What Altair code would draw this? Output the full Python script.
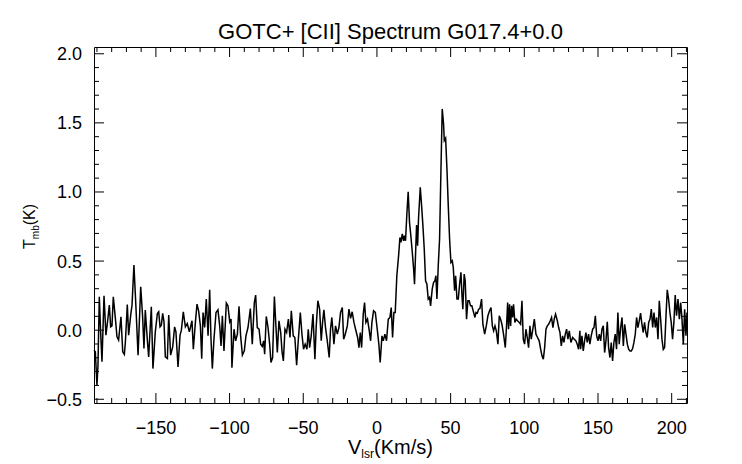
import altair as alt
import pandas as pd

TITLE = "GOTC+ [CII] Spectrum G017.4+0.0"

velocity = [
    -192.0, -191.1, -190.0, -189.3, -188.4, -187.5, -186.6, -185.2, -183.9, -182.7,
    -181.6, -180.7, -179.8, -178.9, -177.5, -176.4, -175.3, -173.7, -172.5, -171.4,
    -170.7, -169.4, -168.5, -167.1, -166.2, -164.9, -163.5, -162.1, -160.3, -159.0,
    -158.1, -157.2, -155.8, -154.9, -153.1, -152.0, -150.4, -149.0, -148.1, -147.2,
    -146.3, -145.4, -144.5, -143.6, -142.2, -141.3, -140.0, -138.6, -137.3, -136.4,
    -135.0, -133.6, -132.7, -131.4, -130.0, -128.7, -127.3,
    -125.5, -124.6, -123.2, -122.1, -121.0, -119.8, -118.9, -118.0, -116.9, -115.8,
    -114.6, -113.5, -112.6, -111.7, -110.6, -109.2, -107.9, -106.7, -105.8, -104.9,
    -103.8, -102.2, -101.1, -99.9, -99.0, -98.4, -97.0, -95.9, -94.7, -93.6,
    -92.5, -91.3, -90.0, -88.9, -87.5, -85.9, -84.6, -83.2, -82.3, -81.2,
    -80.0, -78.9, -77.8, -76.9, -76.2, -75.1, -73.9, -72.8, -71.9, -70.8,
    -69.6, -68.5, -67.6, -66.5, -65.3, -64.4, -63.5, -62.4, -61.3, -60.1,
    -59.0, -58.1,
    -56.8, -55.7, -54.5, -53.4, -52.0, -50.9, -49.8, -48.7, -47.5, -46.6,
    -45.7, -44.6, -43.4, -42.1, -41.2, -40.1, -38.9, -37.8, -36.9, -36.0,
    -34.9, -33.7, -32.4, -31.5, -30.6, -29.2, -28.1, -26.9, -25.8, -24.7,
    -23.5, -22.6, -21.5, -20.1, -19.0, -17.9, -16.8, -15.6, -14.5, -13.1,
    -12.2, -11.3, -10.4, -9.3, -8.4, -7.5, -6.4, -5.2, -4.3, -3.4,
    -2.3, -1.1, 0.2, 1.3, 2.2, 3.4, 4.3,
    5.4, 6.5, 7.7, 8.8, 9.7, 10.6, 11.5, 12.4, 13.5, 14.7,
    15.6, 16.3, 17.2, 18.1, 18.7, 19.4, 20.3, 21.2, 22.1, 23.0,
    23.9, 24.9, 25.5, 26.4, 26.9, 27.6, 28.2, 29.4, 30.3, 31.2,
    32.1, 33.0, 33.9, 34.8, 35.7, 36.4, 37.5, 38.4, 39.3, 40.0,
    40.7, 41.6, 42.5, 43.4, 44.3, 45.2, 45.7, 46.6, 47.5, 48.4,
    49.3, 50.2, 51.1, 51.8, 52.7, 53.4, 54.3, 55.2, 56.1, 57.0,
    57.7, 58.3, 59.2, 59.9, 60.8, 61.7, 62.6, 63.5, 64.4, 65.3,
    66.5,
    67.2, 68.1, 69.0, 69.9, 71.0, 71.9, 73.1, 74.2, 75.3, 76.4,
    77.4, 78.3, 79.2, 80.1, 81.0, 82.1, 83.0, 83.9, 84.8, 85.9,
    87.1, 88.0, 88.7, 89.3, 90.0, 90.7, 91.4, 92.1, 92.7, 93.6,
    94.5, 95.4, 96.6, 97.5, 98.4, 99.3, 100.2, 101.1, 102.0, 102.9,
    103.8, 104.7, 105.6, 106.8, 107.9, 109.0, 110.1, 111.1, 112.0, 112.9,
    113.8, 114.7, 115.6, 116.5, 117.6, 118.5, 119.4, 120.3, 121.2, 122.4,
    123.3, 124.2, 125.1, 126.0, 126.9, 127.8, 128.7, 129.6, 130.5, 131.6,
    132.8, 133.9, 135.0, 135.9, 136.8, 137.7,
    138.2, 139.1, 140.0, 140.9, 141.8, 142.7, 143.6, 144.5, 145.4, 146.4,
    147.3, 148.2, 149.1, 150.0, 150.9, 151.8, 152.7, 153.6, 154.5, 155.4,
    156.3, 157.2, 158.1, 159.0, 159.9, 160.8, 161.7, 162.6, 163.5, 164.4,
    165.4, 166.3, 167.2, 168.1, 169.0, 169.9, 170.8, 171.7, 172.6, 173.5,
    174.4, 175.3, 176.2, 177.1, 178.0, 178.9, 179.8, 180.7, 181.6, 182.5,
    183.4, 184.4, 185.3, 186.2, 187.1, 188.0, 188.9, 189.8, 190.7, 191.6,
    192.5, 193.4, 194.3, 195.2, 196.1, 197.0, 197.9, 198.8, 199.7, 200.6,
    201.5, 202.4, 203.3, 204.3, 205.2, 206.1, 207.0, 207.9, 208.8, 209.7,
    210.4,
]

tmb = [
    -0.145, -0.157, -0.399, -0.254, 0.242, -0.012, -0.229, 0.249, -0.036, 0.072,
    0.181, 0.024, 0.031, 0.242, 0.085, -0.048, -0.072, 0.097, -0.157, -0.176,
    -0.085, 0.186, -0.036, 0.109, 0.181, 0.471, 0.157, -0.181, 0.314, 0.097,
    -0.133, 0.145, -0.072, -0.193, 0.169, -0.278, -0.012, 0.121, 0.133, 0.024,
    0.036, 0.121, 0.060, -0.193, -0.205, 0.109, -0.181, -0.121, 0.024, -0.012,
    -0.266, -0.036, 0.000, 0.133, 0.024, 0.048, -0.012,
    0.068, -0.138, 0.056, 0.188, 0.140, 0.031, -0.206, 0.128, 0.019, 0.225,
    -0.041, 0.292, -0.065, -0.278, -0.065, 0.128, 0.147, 0.031, -0.114, 0.104,
    -0.150, 0.196, 0.176, 0.060, 0.080, -0.271, 0.007, -0.077, -0.029, 0.172,
    -0.041, -0.181, -0.150, -0.041, 0.019, 0.157, -0.101, 0.200, 0.254, 0.019,
    0.007, -0.101, -0.118, -0.077, -0.174, 0.099, 0.019, -0.101, -0.234, -0.198,
    0.244, 0.019, -0.162, 0.068, -0.017, -0.157, -0.222, 0.007, -0.017, 0.080,
    -0.053, 0.140,
    -0.041, -0.053, -0.254, -0.077, 0.128, -0.029, -0.138, -0.101, -0.138, 0.007,
    -0.126, -0.041, 0.116, -0.210, 0.031, 0.213, 0.152, -0.077, 0.056, 0.147,
    0.019, -0.077, -0.198, 0.007, 0.092, -0.101, 0.031, -0.029, 0.019, 0.128,
    0.164, -0.065, -0.029, 0.031, 0.152, 0.085, 0.133, 0.056, 0.007, -0.053,
    -0.126, -0.017, -0.126, 0.116, 0.200, 0.056, 0.080, -0.005, -0.077, 0.056,
    0.140, 0.128, 0.007, -0.101, -0.234, -0.041, -0.077,
    -0.029, -0.077, 0.080, 0.092, 0.164, -0.053, 0.128, 0.128, 0.394, 0.539,
    0.671, 0.635, 0.696, 0.647, 0.684, 0.647, 0.841, 1.002, 0.780, 0.684,
    0.575, 0.442, 0.333, 0.611, 0.761, 0.611, 0.804, 1.034, 0.901, 0.756,
    0.587, 0.357, 0.333, 0.225, 0.237, 0.176, 0.297, 0.345, 0.357, 0.394,
    0.225, 0.466, 0.659, 1.143, 1.601, 1.493, 1.372, 1.389, 1.167, 0.901,
    0.659, 0.490, 0.502, 0.454, 0.285, 0.394, 0.225, 0.225, 0.333, 0.418,
    0.249, 0.152, 0.406, 0.357, 0.080, 0.213, 0.213, 0.176, 0.176, 0.140,
    0.092,
    0.128, 0.123, 0.152, 0.157, 0.225, 0.043, -0.029, 0.031, 0.104, 0.140,
    0.164, 0.031, -0.005, 0.031, -0.005, -0.101, 0.104, 0.080, 0.043, -0.029,
    -0.126, 0.043, 0.200, 0.007, 0.188, 0.031, 0.176, 0.092, 0.188, 0.056,
    0.080, 0.068, 0.056, 0.043, 0.213, -0.065, -0.101, 0.007, -0.053, -0.126,
    0.031, -0.065, -0.005, 0.080, -0.029, -0.053, -0.077, -0.138, -0.186, -0.210,
    -0.126, 0.007, 0.031, 0.043, 0.068, 0.092, 0.019, 0.080, 0.116, 0.068,
    0.019, -0.017, -0.114, -0.041, -0.089, -0.029, 0.007, -0.065, -0.005, -0.089,
    -0.053, -0.065, -0.077, -0.101, -0.138, -0.005,
    -0.138, -0.041, -0.150, -0.077, -0.017, -0.089, -0.029, -0.101, -0.041, 0.007,
    0.019, 0.104, -0.041, -0.077, -0.029, -0.077, 0.007, 0.031, -0.162, -0.077,
    0.060, -0.126, -0.198, -0.089, -0.222, -0.089, -0.029, -0.138, 0.128, -0.101,
    0.019, 0.092, -0.114, 0.043, -0.029, -0.101, -0.138, -0.150, -0.150, -0.133,
    -0.089, -0.029, 0.092, 0.019, 0.068, 0.123, 0.043, -0.017, 0.056, -0.017,
    -0.053, 0.056, 0.080, 0.152, 0.019, 0.128, 0.019, 0.092, -0.065, 0.213,
    0.080, -0.065, -0.140, -0.126, 0.092, 0.292, 0.225, 0.128, 0.056, -0.065,
    0.056, 0.254, 0.104, 0.225, 0.080, 0.200, 0.080, -0.101, 0.152, -0.041,
    0.128,
]

x_major = [-150, -100, -50, 0, 50, 100, 150, 200]
x_tick_labels = ["\u2212150", "\u2212100", "\u221250", "0", "50", "100", "150", "200"]
x_minor = [-190, -180, -170, -160, -140, -130, -120, -110, -90, -80, -70, -60,
           -40, -30, -20, -10, 10, 20, 30, 40, 60, 70, 80, 90, 110, 120, 130,
           140, 160, 170, 180, 190, 210]
y_major = [-0.5, 0.0, 0.5, 1.0, 1.5, 2.0]
y_tick_labels = ["\u22120.5", "0.0", "0.5", "1.0", "1.5", "2.0"]
y_minor = [-0.4, -0.3, -0.2, -0.1, 0.1, 0.2, 0.3, 0.4, 0.6, 0.7, 0.8, 0.9,
           1.1, 1.2, 1.3, 1.4, 1.6, 1.7, 1.8, 1.9]
x_label_parts = ["V", "lsr", "(Km/s)"]
y_label_parts = ["T", "mb", "(K)"]
x_domain = [-192.0, 210.4]
y_domain = [-0.527, 2.049]

W, H = 593, 356
FONT = "Liberation Sans"
MAJ, MIN = 10, 5
TICK_FS = 18

spec = pd.DataFrame({"velocity": velocity, "tmb": tmb})
xs = alt.Scale(domain=x_domain, nice=False, zero=False)
ys = alt.Scale(domain=y_domain, nice=False, zero=False)

line = alt.Chart(spec).mark_line(color="black", strokeWidth=1.5).encode(
    x=alt.X("velocity:Q", scale=xs, axis=None),
    y=alt.Y("tmb:Q", scale=ys, axis=None),
)


def xticks(vals, length):
    df = pd.DataFrame({"t": vals})
    base = alt.Chart(df).mark_rule(color="black", strokeWidth=1)
    bottom = base.encode(x=alt.X("t:Q", scale=xs, axis=None),
                         y=alt.value(H), y2=alt.value(H - length))
    top = base.encode(x=alt.X("t:Q", scale=xs, axis=None),
                      y=alt.value(0), y2=alt.value(length))
    return [bottom, top]


def yticks(vals, length):
    df = pd.DataFrame({"t": vals})
    base = alt.Chart(df).mark_rule(color="black", strokeWidth=1)
    left = base.encode(y=alt.Y("t:Q", scale=ys, axis=None),
                       x=alt.value(0), x2=alt.value(length))
    right = base.encode(y=alt.Y("t:Q", scale=ys, axis=None),
                        x=alt.value(W), x2=alt.value(W - length))
    return [left, right]


xlab = alt.Chart(pd.DataFrame({"t": x_major, "s": x_tick_labels})).mark_text(
    font=FONT, fontSize=TICK_FS, align="center", baseline="alphabetic", color="black"
).encode(x=alt.X("t:Q", scale=xs, axis=None), y=alt.value(H + 31), text="s:N")

ylab = alt.Chart(pd.DataFrame({"t": y_major, "s": y_tick_labels})).mark_text(
    font=FONT, fontSize=TICK_FS, align="right", baseline="alphabetic", color="black",
    dy=6.5
).encode(y=alt.Y("t:Q", scale=ys, axis=None), x=alt.value(-12), text="s:N")


def label(text, x, y, size, angle=0, align="left"):
    return alt.Chart(pd.DataFrame({"s": [text]})).mark_text(
        font=FONT, fontSize=size, align=align, baseline="alphabetic",
        angle=angle, color="black"
    ).encode(text="s:N", x=alt.value(x), y=alt.value(y))


labels = [
    label(TITLE, W / 2, -8, 22, align="center"),
    label(x_label_parts[0], 254, 407, 20),
    label(x_label_parts[1], 267.3, 411, 12),
    label(x_label_parts[2], 280, 407, 20),
    label(y_label_parts[0], -59, 202, 16, 270),
    label(y_label_parts[1], -55, 192.2, 10, 270),
    label(y_label_parts[2], -59, 178.3, 16, 270),
]

layers = [line] + xticks(x_major, MAJ) + xticks(x_minor, MIN) + \
    yticks(y_major, MAJ) + yticks(y_minor, MIN) + [xlab, ylab] + labels

chart = alt.layer(*layers).properties(
    width=W, height=H,
    autosize=alt.AutoSizeParams(type="none"),
    padding={"left": 86, "top": 39, "right": 40, "bottom": 60},
).configure_view(stroke="black", strokeWidth=1)

chart.save("out.html", embed_options={"renderer": "svg", "actions": False})
